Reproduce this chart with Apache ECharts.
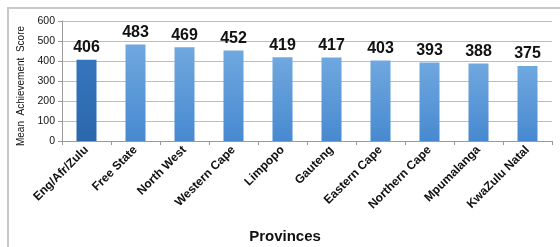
<!DOCTYPE html>
<html>
<head>
<meta charset="utf-8">
<script src="https://cdn.jsdelivr.net/npm/echarts@6/dist/echarts.min.js"></script>
<style>
html, body { margin: 0; padding: 0; background: #fff; }
#chart { width: 560px; height: 247px; }
</style>
</head>
<body>
<div id="chart"></div>
<script>
var provinces = ["Eng/Afr/Zulu", "Free State", "North West", "Western Cape", "Limpopo", "Gauteng", "Eastern Cape", "Northern Cape", "Mpumalanga", "KwaZulu Natal"];
var scores = [406, 483, 469, 452, 419, 417, 403, 393, 388, 375];
var yTicks = [0, 100, 200, 300, 400, 500, 600];

function barColor(i) {
    if (i == 0) {
        return new echarts.graphic.LinearGradient(0, 0, 0, 1, [
            { offset: 0, color: "#3675BC" }, { offset: 1, color: "#2B67AC" }
        ]);
    }
    return new echarts.graphic.LinearGradient(0, 0, 0, 1, [
        { offset: 0, color: "#70A8DF" }, { offset: 1, color: "#4789D0" }
    ]);
}

var n = echarts.init(document.getElementById("chart"));
n.setOption({
    backgroundColor: "#fff",
    animation: false,
    grid: { left: 62, right: 8, top: 21, bottom: 106 },
    graphic: [
        { type: "rect", shape: { x: 8, y: 8, width: 560, height: 250 }, style: { fill: "none", stroke: "#C8C8C8", lineWidth: 2 } },
        { type: "text", x: 285, y: 237, style: { text: "Provinces", font: "bold 15px Arial, 'Liberation Sans'", fill: "#111", align: "center", verticalAlign: "middle" } }
    ],
    xAxis: [{
        type: "category",
        data: provinces,
        axisLine: { lineStyle: { color: "#999" } },
        axisTick: { show: true, length: 4, lineStyle: { color: "#999" } },
        axisLabel: {
            interval: 0, rotate: 45, margin: 7,
            color: "#111", fontWeight: "bold", fontSize: 12,
            fontFamily: "Arial, 'Liberation Sans'"
        },
        splitLine: { show: false }
    }],
    yAxis: [{
        type: "value",
        min: yTicks[0], max: yTicks[yTicks.length - 1], interval: 100,
        name: "Mean  Achievement  Score",
        nameLocation: "middle",
        nameGap: 31,
        nameRotate: 90,
        nameTextStyle: { color: "#111", fontSize: 10, fontFamily: "Arial, 'Liberation Sans'", padding: [0, 10, 0, 0] },
        axisLine: { show: true, lineStyle: { color: "#999" } },
        axisTick: { show: true, length: 4, lineStyle: { color: "#999" } },
        axisLabel: { color: "#111", fontSize: 10.5, margin: 7, fontFamily: "Arial, 'Liberation Sans'" },
        splitLine: { show: true, lineStyle: { color: "#BDBDBD" } }
    }],
    series: [{
        name: "Score",
        type: "bar",
        barWidth: 20,
        data: scores.map(function (v, i) {
            return { value: v, itemStyle: { color: barColor(i) } };
        }),
        label: {
            show: true, position: "top", distance: 4,
            color: "#111", fontWeight: "bold", fontSize: 16,
            fontFamily: "Arial, 'Liberation Sans'"
        }
    }]
});
</script>
</body>
</html>
